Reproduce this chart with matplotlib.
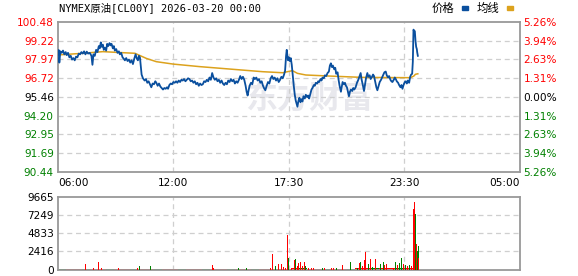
import matplotlib
matplotlib.use("Agg")
import matplotlib.pyplot as plt
from matplotlib.patches import Rectangle
import numpy as np

# ---------------- data ----------------
title = "NYMEX原油[CL00Y] 2026-03-20 00:00"
x_tick_labels = ["06:00", "12:00", "17:30", "23:30", "05:00"]
price_levels = [90.44, 91.69, 92.95, 94.20, 95.46, 96.72, 97.97, 99.22, 100.48]
price_labels = ["90.44", "91.69", "92.95", "94.20", "95.46", "96.72", "97.97", "99.22", "100.48"]
pct_labels = ["5.26%", "3.94%", "2.63%", "1.31%", "0.00%", "1.31%", "2.63%", "3.94%", "5.26%"]
vol_levels = [0, 2416, 4833, 7249, 9665]

# (minute index over the session, price)
price_points = [
    (0, 98.30), (2, 98.59), (4, 97.75), (7, 98.50), (11, 98.40), (15, 98.55), (19, 98.30),
    (23, 98.45), (26, 98.25), (30, 98.40), (34, 98.10), (38, 98.20), (42, 97.95), (46, 98.05),
    (50, 97.90), (54, 98.15), (58, 98.10), (62, 98.35), (66, 98.30), (70, 98.45), (74, 98.35),
    (78, 98.50), (82, 98.30), (86, 98.48), (90, 98.35), (95, 98.40), (100, 98.20), (103, 97.60),
    (106, 98.30), (110, 98.20), (114, 98.60), (118, 98.45), (122, 98.85), (125, 98.70),
    (128, 99.10), (131, 98.80), (134, 98.95), (137, 98.60), (140, 98.75), (144, 98.55),
    (147, 99.00), (150, 98.85), (154, 99.05), (157, 98.90), (160, 99.00), (164, 98.70),
    (167, 98.85), (170, 98.55), (174, 98.65), (178, 98.40), (182, 98.50), (185, 98.30),
    (189, 98.40), (193, 98.10), (197, 98.00), (200, 97.90), (204, 98.05), (208, 97.85),
    (212, 97.95), (216, 97.75), (220, 97.90), (224, 97.65), (228, 98.00), (232, 98.30),
    (236, 98.00), (239, 97.90), (242, 98.20), (245, 98.10), (248, 97.40), (250, 96.95),
    (254, 96.70), (259, 96.55), (263, 96.65), (267, 96.40), (271, 96.50), (275, 96.30),
    (279, 96.10), (283, 96.35), (287, 96.30), (291, 96.50), (294, 96.40), (298, 96.20),
    (302, 96.35), (306, 96.15), (310, 96.05), (314, 95.95), (318, 96.05), (322, 96.00),
    (326, 96.10), (329, 96.00), (333, 96.25), (337, 96.35), (341, 96.30), (345, 96.45),
    (349, 96.40), (353, 96.50), (357, 96.40), (361, 96.55), (365, 96.45), (369, 96.60),
    (373, 96.55), (377, 96.65), (381, 96.50), (385, 96.60), (389, 96.70), (393, 96.65),
    (397, 96.50), (401, 96.55), (405, 96.40), (409, 96.50), (413, 96.30), (417, 96.40),
    (421, 96.20), (425, 96.35), (429, 96.25), (433, 96.30), (437, 96.50), (441, 96.45),
    (445, 96.60), (449, 96.50), (453, 96.75), (457, 96.60), (461, 97.05), (465, 96.75),
    (469, 96.60), (473, 96.70), (477, 96.50), (481, 96.60), (485, 96.40), (489, 96.55),
    (493, 96.35), (497, 96.25), (501, 96.40), (505, 96.30), (509, 96.55), (513, 96.45),
    (517, 96.65), (521, 96.50), (525, 96.60), (529, 96.35), (533, 96.50), (537, 96.40),
    (541, 96.60), (545, 96.85), (549, 96.65), (553, 96.80), (557, 96.60), (561, 96.20),
    (564, 95.80), (567, 95.55), (570, 95.90), (573, 96.20), (577, 96.40), (581, 96.30),
    (585, 96.75), (589, 96.65), (593, 96.75), (597, 96.55), (601, 96.65), (605, 96.40),
    (609, 96.50), (613, 96.20), (617, 96.00), (620, 95.90), (624, 96.20), (628, 96.45),
    (632, 96.35), (636, 96.70), (640, 96.85), (644, 96.65), (648, 96.75), (652, 96.55),
    (656, 96.70), (660, 96.45), (664, 96.60), (668, 96.80), (672, 96.70), (676, 96.95),
    (679, 97.20), (682, 98.20), (684, 98.60), (686, 98.20), (688, 97.90), (690, 98.10),
    (693, 97.85), (696, 98.05), (699, 97.60), (702, 96.90), (705, 96.20), (708, 95.60),
    (711, 95.20), (714, 94.95), (716, 94.80), (719, 95.20), (722, 95.40), (725, 95.10),
    (728, 95.30), (731, 95.15), (734, 95.50), (738, 95.35), (741, 95.60), (745, 95.45),
    (748, 95.55), (751, 95.35), (755, 95.70), (758, 95.95), (761, 96.05), (765, 96.25),
    (768, 96.20), (771, 96.40), (775, 96.35), (778, 96.50), (781, 96.45), (785, 96.65),
    (788, 96.55), (791, 96.75), (795, 96.70), (798, 96.90), (802, 96.85), (806, 97.05),
    (810, 97.15), (813, 97.55), (816, 97.70), (819, 97.45), (822, 97.55), (826, 97.30),
    (829, 97.40), (832, 97.00), (836, 97.10), (839, 96.60), (842, 96.20), (846, 95.80),
    (849, 96.20), (851, 96.45), (855, 96.30), (858, 96.40), (861, 96.20), (864, 96.10),
    (867, 95.80), (870, 95.50), (873, 95.80), (876, 95.95), (880, 95.85), (883, 96.05),
    (886, 95.95), (890, 96.10), (894, 96.40), (898, 96.60), (901, 96.80), (905, 97.05),
    (908, 96.60), (911, 96.30), (915, 95.85), (918, 96.30), (921, 96.70), (925, 97.05),
    (928, 96.80), (932, 96.90), (935, 96.65), (939, 96.80), (942, 96.95), (945, 96.85),
    (949, 96.40), (952, 96.10), (955, 95.90), (959, 96.20), (962, 96.45), (966, 96.60),
    (970, 96.80), (973, 96.95), (976, 97.10), (980, 97.15), (983, 96.90), (987, 96.75),
    (990, 96.85), (994, 96.60), (997, 96.50), (1000, 96.45), (1004, 96.60), (1007, 96.75),
    (1010, 96.65), (1013, 96.50), (1017, 96.40), (1020, 96.25), (1024, 96.10), (1027, 96.25),
    (1030, 96.00), (1034, 96.30), (1037, 96.45), (1040, 96.50), (1043, 96.35), (1046, 96.55),
    (1050, 96.40), (1053, 96.80), (1056, 96.95), (1059, 97.00), (1061, 97.80), (1063, 99.95),
    (1065, 99.85), (1067, 99.85), (1069, 99.20), (1071, 98.80), (1073, 98.65), (1074, 98.45),
    (1076, 98.20),
]
price_min = [p[0] for p in price_points]
price_val = [p[1] for p in price_points]

avg_min = [0, 75, 134, 185, 230, 264, 294, 344, 423, 523, 612, 672, 686, 701, 716, 741, 811,
           910, 1054, 1064, 1069, 1076]
avg_val = [98.26, 98.37, 98.48, 98.42, 98.37, 98.03, 97.81, 97.65, 97.48, 97.30, 97.14, 97.07,
           97.14, 97.21, 97.03, 96.92, 96.85, 96.76, 96.74, 96.85, 96.97, 97.00]

# notable volume bars: minute, volume, direction (1 up / 0 down)
vol_min = [0, 82, 106, 122, 130, 182, 238, 243, 248, 254, 263, 276, 299, 462, 464, 540, 553, 564,
           592, 625, 636, 641, 650, 655, 660, 667, 669, 675, 680, 686, 689, 694, 699, 708, 711,
           717, 719, 725, 730, 736, 741, 748, 757, 763, 791, 796, 818, 824, 833, 846, 851, 870,
           874, 879, 896, 901, 905, 910, 916, 919, 924, 929, 934, 940, 945, 949, 957, 960, 965,
           969, 973, 976, 982, 987, 993, 999, 1004, 1010, 1015, 1021, 1026, 1028, 1034, 1039,
           1045, 1051, 1056, 1062, 1066, 1069, 1073, 1075, 1077, 1079]
vol_val = [265, 706, 177, 971, 265, 177, 221, 441, 662, 265, 353, 441, 177, 574, 265, 265, 353, 265,
           706, 353, 265, 2118, 441, 353, 706, 441, 794, 353, 265, 4545, 1589, 441, 265, 1236, 1412,
           530, 883, 1059, 530, 971, 441, 265, 265, 177, 265, 221, 177, 177, 265, 2692, 618, 2339,
           971, 574, 265, 883, 971, 441, 1236, 2339, 1236, 794, 1368, 353, 574, 1412, 1015, 1677,
           706, 1236, 1015, 574, 794, 265, 1015, 574, 265, 1015, 574, 883, 441, 1589, 706, 574,
           441, 574, 441, 8076, 8914, 7414, 3354, 2471, 3177, 1500]
vol_up = [0, 1, 1, 1, 1, 1, 1, 0, 0, 0, 1, 0, 0, 1, 1, 0, 1, 0,
          1, 0, 1, 1, 0, 1, 1, 1, 1, 1, 1, 1, 0, 0, 1, 1, 0,
          1, 1, 1, 1, 1, 0, 1, 1, 1, 0, 1, 1, 1, 0, 0, 1, 0,
          0, 1, 0, 1, 0, 1, 1, 1, 1, 0, 1, 0, 0, 1, 0, 1, 0,
          0, 0, 1, 1, 1, 0, 1, 1, 0, 1, 0, 1, 0, 1, 0,
          1, 0, 1, 1, 1, 0, 1, 0, 0, 1]

# background trickle volume (every 24 minutes)
base_min = [0, 24, 48, 72, 96, 120, 144, 168, 192, 216, 240, 264, 288, 312, 336, 360, 384, 408,
            432, 456, 480, 504, 528, 552, 576, 600, 624, 648, 672, 696, 720, 744, 768, 792, 816,
            840, 864, 888, 912, 936, 960, 984, 1008, 1032, 1056]
base_vol = [90, 80, 100, 85, 95, 90, 80, 85, 90, 100, 110, 95, 90, 80, 85, 80, 90, 85,
            80, 90, 85, 80, 95, 90, 85, 100, 110, 120, 130, 140, 150, 130, 120, 110, 100,
            120, 130, 150, 160, 150, 170, 160, 150, 170, 180]

# ---------------- figure ----------------
W, H = 578, 276
fig = plt.figure(figsize=(W / 100, H / 100), dpi=100)
fig.patch.set_facecolor("white")

RED = "#ff0000"
GREEN = "#008000"
BLUE = "#0a4f9e"
ORANGE = "#dca21d"
GRID = "#cfcfcf"
SPINE = "#999999"
TFONT = 7.6

def fx(px):
    return px / W

def fy(py):
    return 1 - py / H

ax = fig.add_axes([fx(58), fy(172), fx(519.5) - fx(58), fy(21.7) - fy(172)])
axv = fig.add_axes([fx(58), fy(269.5), fx(519.5) - fx(58), fy(196.7) - fy(269.5)])

XMAX = 1380
xt = np.linspace(0, XMAX, len(x_tick_labels))

# watermark
ax.text(0.545, 0.485, "东方财富", transform=ax.transAxes, fontsize=23, fontweight="bold",
        color="#e8e8ed", ha="center", va="center", family=["Noto Sans CJK SC"], zorder=0)

# main price panel
ax.plot(avg_min, avg_val, color=ORANGE, lw=1.1, zorder=3)
ax.plot(price_min, price_val, color=BLUE, lw=1.3, zorder=4)
ax.set_xlim(0, XMAX)
ax.set_ylim(price_levels[0], price_levels[-1])
ax.set_yticks(price_levels)
ax.set_yticklabels(price_labels)
ax.set_xticks(xt)
ax.set_xticklabels(x_tick_labels)
ax.tick_params(axis="both", length=0, labelsize=TFONT, pad=3)
ax.tick_params(axis="x", pad=4)
labs = ax.get_xticklabels()
labs[0].set_ha("left")
labs[-1].set_ha("right")
for i, t in enumerate(ax.get_yticklabels()):
    t.set_color(GREEN if i < 4 else ("black" if i == 4 else RED))
for yv in price_levels[1:-1]:
    ax.axhline(yv, color=GRID, lw=0.9, ls=(0, (4, 3)), zorder=1)
for xv in xt[1:-1]:
    ax.axvline(xv, color=GRID, lw=0.9, ls=(0, (4, 3)), zorder=1)
for s in ax.spines.values():
    s.set_color(SPINE)
    s.set_linewidth(1.3)

axr = ax.twinx()
axr.set_ylim(price_levels[0], price_levels[-1])
axr.set_yticks(price_levels)
axr.set_yticklabels(pct_labels)
axr.tick_params(axis="y", length=0, labelsize=TFONT, pad=3)
for i, t in enumerate(axr.get_yticklabels()):
    t.set_color(GREEN if i < 4 else ("black" if i == 4 else RED))
for s in axr.spines.values():
    s.set_visible(False)

# volume panel
axv.bar(base_min, base_vol, width=24, color=[RED if i % 3 else GREEN for i in range(len(base_min))],
        align="edge", zorder=2, linewidth=0)
axv.bar(vol_min, vol_val, width=2.4, color=[RED if u else GREEN for u in vol_up], zorder=3,
        linewidth=0)
axv.set_xlim(0, XMAX)
axv.set_ylim(0, vol_levels[-1])
axv.set_yticks(vol_levels)
axv.set_yticklabels([str(v) for v in vol_levels])
axv.set_xticks([])
axv.tick_params(axis="y", length=0, labelsize=TFONT, pad=3, colors="black")
for yv in vol_levels[1:-1]:
    axv.axhline(yv, color=GRID, lw=0.9, ls=(0, (4, 3)), zorder=1)
for xv in xt[1:-1]:
    axv.axvline(xv, color=GRID, lw=0.9, ls=(0, (4, 3)), zorder=1)
for s in axv.spines.values():
    s.set_color(SPINE)
    s.set_linewidth(1.3)

# title and legend
fig.text(fx(59), fy(8), title, fontsize=7.5, family=["DejaVu Sans Mono", "Noto Sans CJK SC"],
         ha="left", va="center", color="black")
fig.text(fx(432), fy(8), "价格", fontsize=8.2, family=["Noto Sans CJK SC"], ha="left",
         va="center", color="black")
fig.patches.append(Rectangle((fx(462), fy(9.5)), fx(5.5), fy(0) - fy(3.5), transform=fig.transFigure,
                             color=BLUE, figure=fig))
fig.text(fx(477), fy(8), "均线", fontsize=8.2, family=["Noto Sans CJK SC"], ha="left",
         va="center", color="black")
fig.patches.append(Rectangle((fx(507), fy(9.5)), fx(5.5), fy(0) - fy(3.5), transform=fig.transFigure,
                             color=ORANGE, figure=fig))

fig.savefig("out.png", dpi=100, facecolor="white")
